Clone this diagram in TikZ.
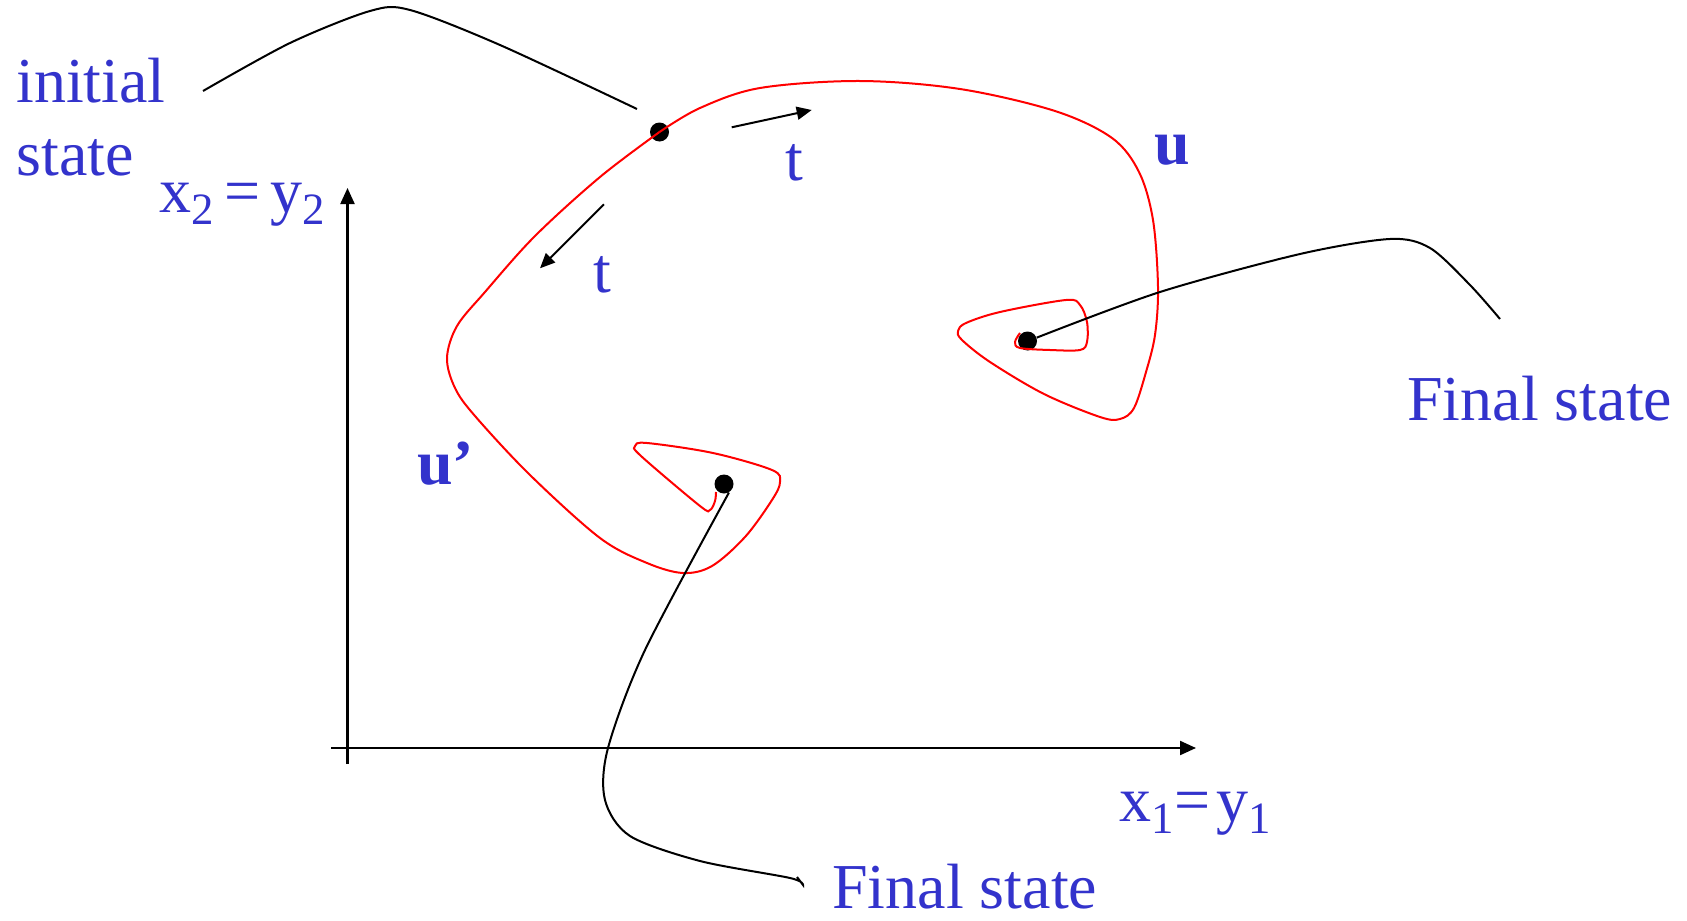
\documentclass[tikz,border=0pt]{standalone}
\usepackage{fontspec}
\setmainfont{Liberation Serif}
\usetikzlibrary{arrows.meta}
\definecolor{lblue}{HTML}{3333CC}
\tikzset{
  lbl/.style  = {text=lblue, inner sep=0pt, anchor=base west,
                 font=\fontsize{32}{36.5}\selectfont},
  sdot/.style = {fill, circle, inner sep=0pt, minimum size=9.5pt},
  traj/.style = {red, line width=1pt},
  lead/.style = {line width=1pt},
  axis/.style = {line width=1.1pt, -{Triangle[length=8pt,width=7pt]}},
  tdir/.style = {line width=1pt, -{Triangle[length=7.5pt,width=6.5pt]}},
}

\begin{document}
\begin{tikzpicture}[x=0.5pt, y=-0.5pt]
\useasboundingbox (0,0) rectangle (1687,921);
% ---------- axes ----------
\coordinate (xstart) at (331,748);
\coordinate (xend) at (1196,748);
\coordinate (ystart) at (347.5,764);
\coordinate (yend) at (347.5,188);
\draw[axis] (xstart) -- (xend);
\draw[axis] (ystart) -- (yend);
\node[lbl] (lblx1) at (1119,821) {x\textsubscript{1}=\kern3pt y\textsubscript{1}};
\node[lbl] (lblx2) at (159,212) {x\textsubscript{2}\kern5pt=\kern5pt y\textsubscript{2}};
% ---------- states ----------
\coordinate (p0) at (659.5,132);
\coordinate (p1) at (1027.5,341);
\coordinate (p2) at (724,484);
\node[sdot] (init) at (p0) {};
\node[sdot] (fin1) at (p1) {};
\node[sdot] (fin2) at (p2) {};
% trajectory u
\draw[traj] plot[smooth, tension=0.55] coordinates {(p0) (700,108) (760,88)
  (860,81) (960,89) (1055,111) (1112,138) (1139,172) (1153,220) (1158,287)
  (1155,335) (1146,372) (1134,408) (1120,419) (1100,417) (1044,394)
  (990,362) (962,340) (958,331) (966,323) (1000,312) (1066,300) (1080,305)
  (1087,322) (1087,342) (1080,350) (1050,350) (1020,348) (1015,342)
  (1020,333)};
% trajectory u'
\draw[traj] plot[smooth, tension=0.55] coordinates {(p0) (600,177) (535,236)
  (485,292) (457,326) (447,358) (455,388) (475,416) (530,475) (600,538)
  (647,563) (683,573) (712,566) (745,537) (772,500) (780,482)
  (772,470) (713,453) (647,443) (635,446) (641,456) (700,506) (710,510)
  (715,501) (716,492)};
% direction of time
\coordinate (ta0) at (731.7,127.3);
\coordinate (ta1) at (811.7,110);
\coordinate (tb0) at (604,204.3);
\coordinate (tb1) at (540,268.3);
\draw[tdir] (ta0) -- (ta1);
\draw[tdir] (tb0) -- (tb1);
\node[lbl] (lblt1) at (785,180) {t};
\node[lbl] (lblt2) at (593,292) {t};
\node[lbl, font=\fontsize{32}{36.5}\selectfont\bfseries] (lblu) at (1154,164) {u};
\node[lbl, font=\fontsize{32}{36.5}\selectfont\bfseries] (lbluu) at (417,484) {u’};
% ---------- labels and leaders ----------
\node[lbl] (lblinit) at (16,102) {initial};
\node[lbl] (lblstate) at (16,175) {state};
\node[lbl] (lblfin1) at (1407,420) {Final state};
\node[lbl] (lblfin2) at (832,908) {Final state};
\draw[lead] plot[smooth] coordinates {(203,91) (290,43) (370,11) (410,10)
  (500,45) (637,109)};
\draw[lead] plot[smooth] coordinates {(fin1.20) (1160,292) (1300,254)
  (1390,239) (1430,248) (1470,285) (1500,319)};
\draw[lead] plot[smooth] coordinates {(fin2.-60) (645,650) (608,748)
  (605,800) (630,836) (700,861) (790,878) (803,885)} -- (797,877);
\end{tikzpicture}
\end{document}
